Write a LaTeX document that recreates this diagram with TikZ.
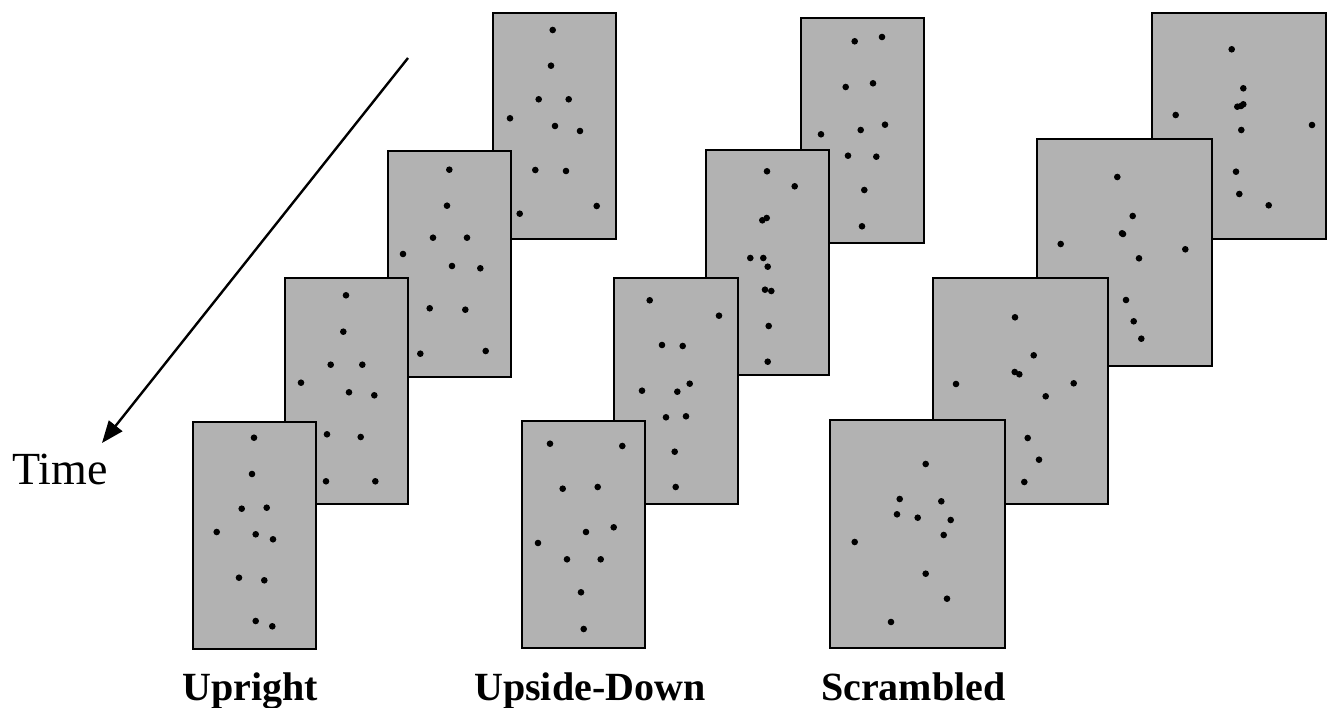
\documentclass[tikz,border=0pt]{standalone}
\usepackage{fontspec}
\setmainfont{Liberation Serif}
\usetikzlibrary{arrows.meta}
\tikzset{
  panel/.style={draw=black, line width=2pt, fill=black!30, anchor=north west, inner sep=0pt},
  dot/.style={fill=black},
  timearrow/.style={draw=black, line width=2.4pt, -{Triangle[length=22pt,width=17pt]}},
  caption/.style={font=\bfseries\fontsize{40}{44}\selectfont, anchor=base west, inner sep=0pt},
  timelabel/.style={font=\fontsize{46}{50}\selectfont, anchor=base west, inner sep=0pt}
}
\begin{document}
\begin{tikzpicture}[x=1pt, y=-1pt]
\useasboundingbox (0,0) rectangle (1328,708);

% ---------- Upright ----------
\node[panel, minimum width=123pt, minimum height=226pt] (u1) at (491.7,11.7) {};
\foreach \p in {(552.7,30),(551,65.7),(538.7,99.3),(568.7,99.3),(510,118.3),(555,126),(580,131),(535.3,170),(566,171),(596.7,206),(519.7,213.7)}
  \fill[dot] \p circle[radius=3.3pt];
\node[panel, minimum width=123pt, minimum height=226pt] (u2) at (387.3,150) {};
\foreach \p in {(449.3,169.7),(447,205.7),(433,237.7),(467,237.7),(403,254),(452,266),(480.3,268.3),(429.7,308.3),(465.3,309.7),(420.3,353.7),(485.7,351)}
  \fill[dot] \p circle[radius=3.3pt];
\node[panel, minimum width=123pt, minimum height=226pt] (u3) at (284.3,277.3) {};
\foreach \p in {(346,295.3),(343.3,331.7),(330.7,364.7),(362.3,364.7),(301,382.7),(349,392.3),(374.3,395.3),(327,434.3),(360.7,437),(326,481.3),(375.3,481.3)}
  \fill[dot] \p circle[radius=3.3pt];
\node[panel, minimum width=123pt, minimum height=227pt] (u4) at (191.7,420.7) {};
\foreach \p in {(254,437.7),(252,474),(241.7,508.7),(266.7,507.7),(216.7,532),(255.7,534.3),(273,539.3),(239,577.7),(264.3,580.3),(255.7,621),(272.3,626.3)}
  \fill[dot] \p circle[radius=3.3pt];

% ---------- Upside-Down ----------
\node[panel, minimum width=123pt, minimum height=225pt] (d1) at (800,17.3) {};
\foreach \p in {(854.7,41.3),(882,37),(845.7,87),(873,83.3),(821,134.3),(860.7,130),(885,124.7),(848,155.7),(876.3,156.7),(864.3,190),(862,226.3)}
  \fill[dot] \p circle[radius=3.3pt];
\node[panel, minimum width=123pt, minimum height=225pt] (d2) at (705.3,149) {};
\foreach \p in {(767,171.3),(794.7,186.3),(762.3,220.3),(766.7,218),(750.3,258),(763.3,258),(767.7,266.7),(765,289.7),(771.3,291),(768.7,326),(767.7,361.7)}
  \fill[dot] \p circle[radius=3.3pt];
\node[panel, minimum width=124pt, minimum height=226pt] (d3) at (613.3,276.7) {};
\foreach \p in {(649.7,300.3),(719,315.7),(662,345),(682.7,346),(689.7,383.7),(642,390.7),(677.3,391.7),(666,417.3),(686,416.3),(674.7,451.7),(675.7,487)}
  \fill[dot] \p circle[radius=3.3pt];
\node[panel, minimum width=123pt, minimum height=227pt] (d4) at (521.3,420) {};
\foreach \p in {(550,443.7),(622.3,446),(562.7,488.7),(597.7,487),(586,532),(613.7,527.3),(538,543),(567,559.3),(600.7,559.3),(581,592.3),(583.7,629)}
  \fill[dot] \p circle[radius=3.3pt];

% ---------- Scrambled ----------
\node[panel, minimum width=174pt, minimum height=226pt] (s1) at (1151,11.7) {};
\foreach \p in {(1231.7,49.3),(1243.3,88.3),(1237.3,106.7),(1243.3,104.3),(1241,106),(1175.7,115),(1312,125),(1241.3,130),(1236,171.7),(1239.3,194),(1268.7,205.3)}
  \fill[dot] \p circle[radius=3.3pt];
\node[panel, minimum width=175pt, minimum height=227pt] (s2) at (1035.7,138) {};
\foreach \p in {(1117.3,177),(1132.7,216),(1122,233.3),(1123,234),(1060.7,244),(1185.3,249.3),(1139,258.3),(1126,300),(1133.7,321.3),(1141.3,338.7)}
  \fill[dot] \p circle[radius=3.3pt];
\node[panel, minimum width=175pt, minimum height=226pt] (s3) at (931.7,277.3) {};
\foreach \p in {(1015,317.3),(1033.7,355.3),(1014.7,372),(1019.3,374.3),(956,384),(1073.7,383.3),(1045.7,396.3),(1027.7,438),(1039,459.7),(1024.3,482)}
  \fill[dot] \p circle[radius=3.3pt];
\node[panel, minimum width=175pt, minimum height=228pt] (s4) at (829,418.7) {};
\foreach \p in {(925.7,464),(899.7,499),(941.3,501.3),(897,514.3),(917.7,517.7),(950.7,520),(943.7,535),(854.7,542),(925.7,573.7),(947,598.7),(891,622)}
  \fill[dot] \p circle[radius=3.3pt];

% ---------- time arrow ----------
\coordinate (tstart) at (408,58);
\coordinate (tend) at (102,443);
\draw[timearrow] (tstart) -- (tend);
\node[timelabel] (time) at (12,484) {Time};

% ---------- captions ----------
\node[caption] (capu) at (182,700) {Upright};
\node[caption] (capd) at (474,700) {Upside-Down};
\node[caption] (caps) at (821,700) {Scrambled};
\end{tikzpicture}
\end{document}
